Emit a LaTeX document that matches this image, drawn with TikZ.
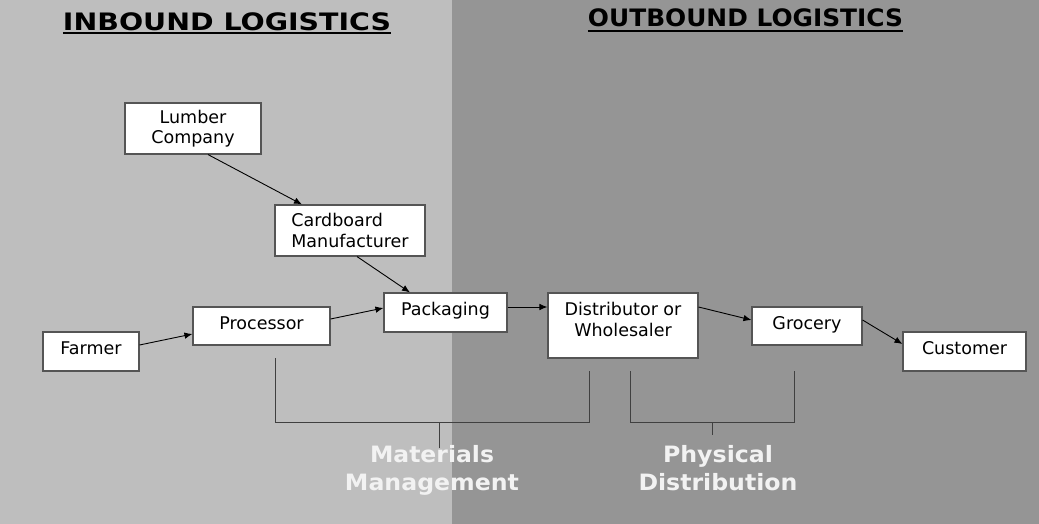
\documentclass[tikz,border=0pt]{standalone}
\usepackage{fontspec}
\setmainfont{DejaVu Sans}
\usetikzlibrary{arrows.meta}
\definecolor{bgleft}{RGB}{190,190,190}
\definecolor{bgright}{RGB}{149,149,149}
\definecolor{boxline}{RGB}{85,85,85}
\definecolor{brk}{RGB}{64,64,64}
\definecolor{lbl}{RGB}{242,242,242}
\tikzset{
  stage/.style={draw=boxline, line width=1.1pt, fill=white, inner sep=0pt,
    font=\fontsize{17.5}{20.5}\selectfont, align=center},
  oneline/.style={text height=13pt, text depth=6.2pt},
  arr/.style={draw=black, line width=0.9pt, -{Latex[length=8pt,width=6.5pt]}},
  bracketline/.style={draw=brk, line width=1pt},
  region/.style={font=\bfseries\fontsize{22.5}{28}\selectfont, text=lbl, align=center, inner sep=0pt, anchor=north},
  header/.style={font=\bfseries\fontsize{24}{28}\selectfont, inner sep=0pt, anchor=base}
}
\begin{document}
\begin{tikzpicture}[x=1pt,y=-1pt]
\useasboundingbox (0,0) rectangle (1039,524);
\fill[bgleft] (0,0) rectangle (452,524);
\fill[bgright] (452,0) rectangle (1039,524);

% headers
\node[header] (inb) at (227,31) {\resizebox{328pt}{\height}{INBOUND LOGISTICS}};
\node[header] (outb) at (745.5,27) {\resizebox{315pt}{\height}{OUTBOUND LOGISTICS}};
\draw[line width=2pt] ([yshift=-2.5pt]inb.base west) -- ([yshift=-2.5pt]inb.base east);
\draw[line width=2pt] ([yshift=-4pt]outb.base west) -- ([yshift=-4pt]outb.base east);

% stages
\node[stage, minimum width=136pt, minimum height=51pt] (lumber) at (193,128.5) {Lumber\\Company};
\node[stage, minimum width=150pt, minimum height=51pt, align=left] (card) at (350,230.5) {Cardboard\\Manufacturer};
\node[stage, oneline, minimum width=123pt, minimum height=39pt] (pack) at (445.5,312.5) {Packaging};
\node[stage, oneline, minimum width=137pt, minimum height=38pt] (proc) at (261.5,326) {Processor};
\node[stage, oneline, minimum width=96pt, minimum height=39pt] (farmer) at (91,351.5) {Farmer};
\node[stage, text depth=12.2pt, minimum width=150pt, minimum height=65pt] (dist) at (623,325.5) {Distributor or\\Wholesaler};
\node[stage, oneline, minimum width=110pt, minimum height=38pt] (groc) at (807,326) {Grocery};
\node[stage, oneline, minimum width=123pt, minimum height=39pt] (cust) at (964.5,351.5) {Customer};

% arrows
\draw[arr] ([xshift=15pt]lumber.south) -- ([xshift=-48pt]card.north);
\draw[arr] ([xshift=7pt]card.south) -- ([xshift=-35.5pt]pack.north);
\draw[arr] ([yshift=6.5pt]farmer.east) -- ([yshift=-8pt]proc.west);
\draw[arr] ([yshift=7pt]proc.east) -- ([yshift=4.5pt]pack.west);
\draw[arr] ([yshift=5.5pt]pack.east) coordinate (pe) -- (pe -| dist.west);
\draw[arr] ([yshift=18.5pt]dist.east) -- ([yshift=6pt]groc.west);
\draw[arr] ([yshift=6pt]groc.east) -- ([yshift=7.5pt]cust.west);

% brackets
\draw[bracketline] (275,358) |- (589,422) -- (589,371);
\draw[bracketline] (439,422) -- (439,448);
\draw[bracketline] (630,371) |- (794,422) -- (794,371);
\draw[bracketline] (712,422) -- (712,435);

% region labels
\node[region] (mm) at (432,444.9) {\resizebox{124pt}{\height}{Materials}\\\resizebox{174pt}{\height}{Management}};
\node[region] (pd) at (718,445.4) {\resizebox{110pt}{\height}{Physical}\\\resizebox{159pt}{\height}{Distribution}};
\end{tikzpicture}
\end{document}
